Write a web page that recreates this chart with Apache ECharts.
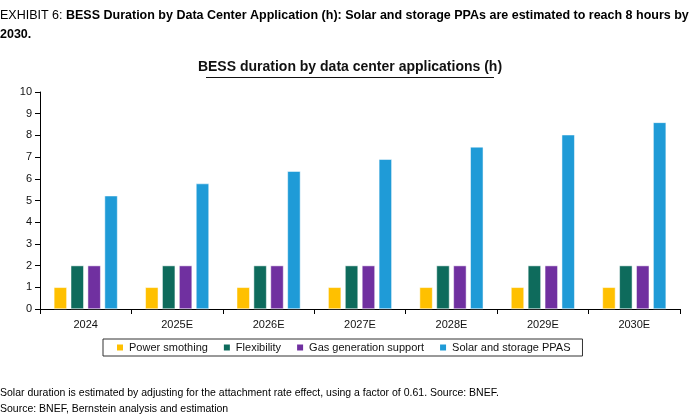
<!DOCTYPE html>
<html>
<head>
<meta charset="utf-8">
<script src="https://cdn.jsdelivr.net/npm/echarts@6/dist/echarts.min.js"></script>
<style>
  html, body { margin: 0; padding: 0; background: #fff; }
  #chart { width: 700px; height: 414px; }
</style>
</head>
<body>
<div id="chart"></div>
<script>
const categories = ['2024', '2025E', '2026E', '2027E', '2028E', '2029E', '2030E']
const powerSmoothing = [1, 1, 1, 1, 1, 1, 1]
const flexibility = [2, 2, 2, 2, 2, 2, 2]
const gasSupport = [2, 2, 2, 2, 2, 2, 2]
const solarStorage = [5.22, 5.78, 6.35, 6.9, 7.47, 8.03, 8.6]
const seriesNames = ['Power smothing', 'Flexibility', 'Gas generation support', 'Solar and storage PPAS']
const colors = ['#FFC000', '#0E6B5C', '#7030A0', '#1F9BD7']

const myChart = echarts.init(document.getElementById('chart'))
const head = '"Liberation Sans", Arial, sans-serif'
const option = {
  animation: false,
  color: colors,
  graphic: [
    {
      type: 'text', left: 0, top: 6,
      style: {
        text: '{a|EXHIBIT 6: }{b|BESS Duration by Data Center Application (h): Solar and storage PPAs are estimated to reach 8 hours by}\n{b|2030.}',
        lineHeight: 19,
        rich: {
          a: { fontFamily: head, fontSize: 12.5, color: '#333' },
          b: { fontFamily: head, fontSize: 12.5, fontWeight: 'bold', color: '#111' },
        },
      },
    },
    {
      type: 'text', left: 0, top: 385,
      style: {
        text: 'Solar duration is estimated by adjusting for the attachment rate effect, using a factor of 0.61. Source: BNEF.\nSource: BNEF, Bernstein analysis and estimation',
        lineHeight: 16, fontFamily: 'Arial, sans-serif', fontSize: 10.5, color: '#333',
      },
    },
    {
      type: 'text', left: 'center', top: 60,
      style: { text: 'BESS duration by data center applications (h)', fontFamily: 'Arial, sans-serif', fontSize: 14, fontWeight: 'bold', fill: '#111' },
    },
    { type: 'rect', shape: { x: 206, y: 77, width: 288, height: 1 }, style: { fill: '#111' } },
  ],
  legend: {
    left: 103, top: 339, width: 484,
    itemWidth: 8, itemHeight: 8, itemGap: 14,
    icon: 'rect',
    borderColor: '#333', borderWidth: 1, padding: [3, 12],
    textStyle: { fontFamily: 'Arial, sans-serif', fontSize: 11, color: '#111' },
    data: seriesNames,
  },
  grid: { left: 40, right: 20, top: 92, bottom: 105 },
  xAxis: {
    type: 'category',
    data: categories,
    axisLine: { lineStyle: { color: '#000' } },
    axisTick: { show: true, lineStyle: { color: '#000' } },
    axisLabel: { color: '#111', fontSize: 11, fontFamily: 'Arial, sans-serif', margin: 10 },
  },
  yAxis: {
    type: 'value', min: 0, max: 10, interval: 1,
    axisLine: { show: true, lineStyle: { color: '#000' } },
    axisTick: { show: true, lineStyle: { color: '#000' } },
    splitLine: { show: false },
    axisLabel: { color: '#111', fontSize: 11, fontFamily: 'Arial, sans-serif' },
  },
  series: [powerSmoothing, flexibility, gasSupport, solarStorage].map((values, i) => ({
    name: seriesNames[i],
    type: 'bar',
    data: values,
    barWidth: 13,
    barGap: '30%',
    itemStyle: { borderColor: '#fff', borderWidth: 0.5 },
  })),
}
myChart.setOption(option, true)
</script>
</body>
</html>
